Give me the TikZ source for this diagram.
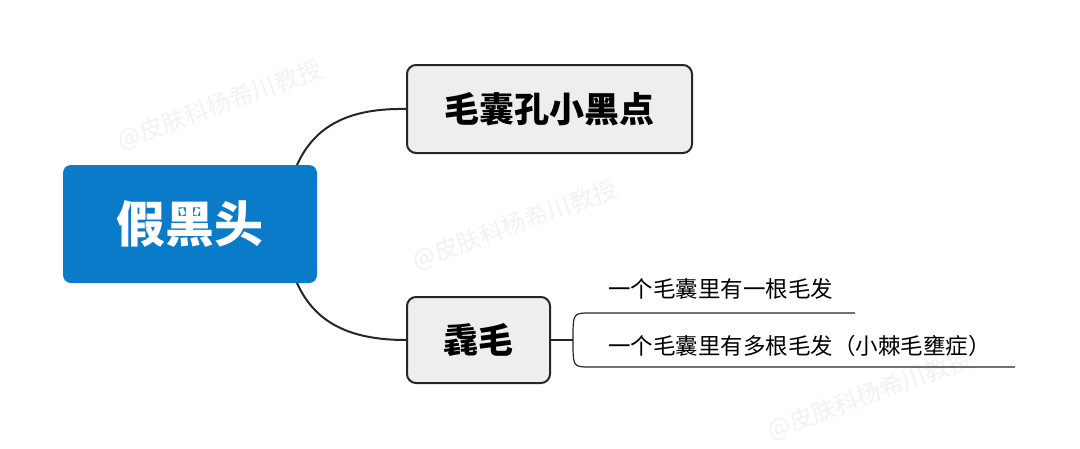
\documentclass[tikz,border=0pt]{standalone}
\usepackage{fontspec}
\newfontfamily\cjk{Noto Sans CJK SC}
\begin{document}
\begin{tikzpicture}[x=1pt,y=-1pt,
  root/.style={draw=none,fill=rootblue,rounded corners=8pt,minimum width=254pt,minimum height=118pt,text=white,font=\cjk\bfseries\fontsize{49}{54}\selectfont},
  sub/.style={draw=black!85,line width=2pt,fill=gray!13,rounded corners=9pt,font=\cjk\bfseries\fontsize{35}{40}\selectfont},
  link/.style={draw=black!85,line width=2pt},
  leaf/.style={font=\cjk\fontsize{22.5}{26}\selectfont,anchor=west,inner sep=0pt},
  wm/.style={text=black!5,rotate=20,font=\cjk\fontsize{24}{28}\selectfont}]
\definecolor{rootblue}{HTML}{0A7BC8}
\useasboundingbox[fill=white] (0,0) rectangle (1080,448);
\node[wm] (w1) at (220,105) {@皮肤科杨希川教授};
\node[wm] (w3) at (515,225) {@皮肤科杨希川教授};
\node[wm] (w4) at (870,395) {@皮肤科杨希川教授};
\node[root] (r) at (190,224) {假黑头};
\node[sub,minimum width=285pt,minimum height=88pt] (a) at (549.5,109) {毛囊孔小黑点};
\node[sub,minimum width=143pt,minimum height=86pt] (b) at (478.5,340) {毳毛};
\coordinate (r1) at (297,165);
\coordinate (r2) at (297,283);
\draw[link] (r1) .. controls (315,125) and (350,108) .. (a.west);
\draw[link] (r2) .. controls (315,323) and (350,340) .. (b.west);
\coordinate (j) at (573,340);
\coordinate (t1) at (855,313);
\coordinate (t2) at (1015,367);
\draw[black!85,line width=1.2pt] (b.east) -- (j);
\draw[black!85,line width=1.2pt] (j) .. controls (573,313) .. (590,313) -- (t1);
\draw[black!85,line width=1.2pt] (j) .. controls (573,367) .. (590,367) -- (t2);
\node[leaf] (l1) at (608,289) {一个毛囊里有一根毛发};
\node[leaf] (l2) at (608,346) {一个毛囊里有多根毛发（小棘毛壅症）};
\end{tikzpicture}
\end{document}
